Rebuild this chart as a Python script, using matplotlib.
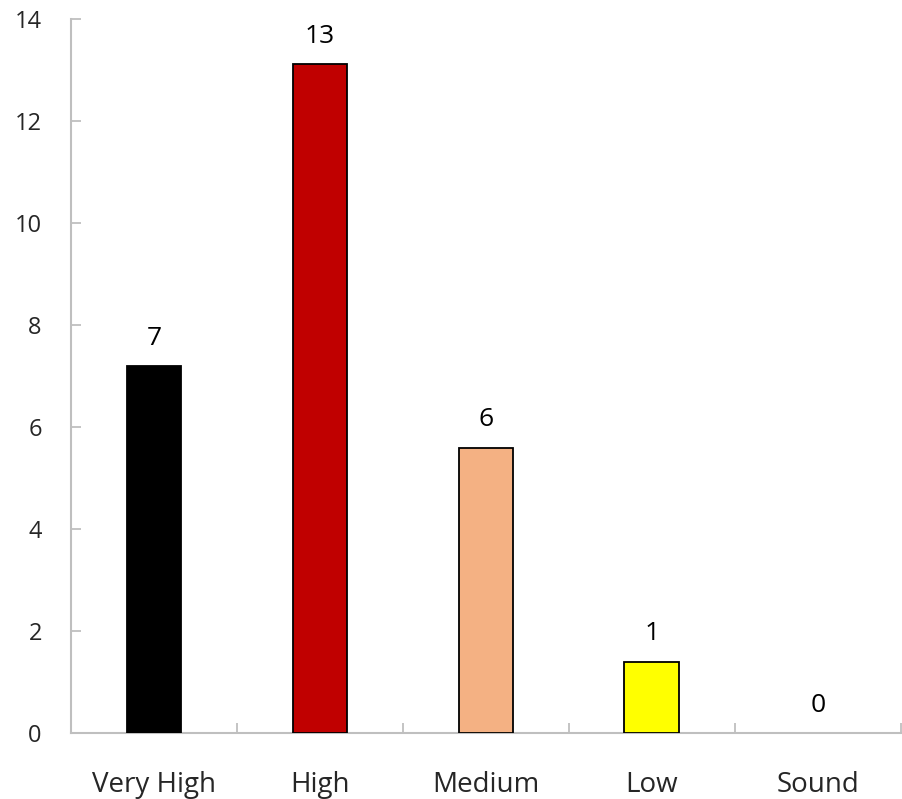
import matplotlib.pyplot as plt
import numpy as np

categories = ["Very High", "High", "Medium", "Low", "Sound"]
values = [7.2, 13.13, 5.6, 1.4, 0]
labels = ["7", "13", "6", "1", "0"]
colors = ["#000000", "#C00000", "#F4B183", "#FFFF00", "#FFFFFF"]

plt.rcParams['font.family'] = ['Open Sans', 'DejaVu Sans']

fig = plt.figure(figsize=(9.03, 7.99), dpi=100)
ax = fig.add_axes([0.0786, 0.0826, 0.919, 0.893])

x = np.arange(len(categories))
bars = ax.bar(x, values, width=0.33, color=colors, edgecolor="black", linewidth=1.3, zorder=3)
bars[-1].set_linewidth(0)

for xi, v, lab in zip(x, values, labels):
    ax.text(xi, v + 0.3, lab, ha="center", va="bottom", fontsize=19, color="black")

ax.set_xlim(-0.5, 4.5)
ax.set_ylim(0, 14)
ax.set_yticks(range(0, 15, 2))
ax.set_xticks(x)
ax.set_xticklabels(categories, fontsize=20, color="#262626")
ax.set_xticks(np.arange(-0.5, 5, 1), minor=True)

ax.tick_params(axis="x", which="major", length=0, pad=27)
ax.tick_params(axis="x", which="minor", direction="in", length=7, width=1.3, color="#BFBFBF")
ax.tick_params(axis="y", direction="in", length=7, width=1.3, color="#BFBFBF",
               labelsize=17, labelcolor="#262626", pad=21)

for s in ["top", "right"]:
    ax.spines[s].set_visible(False)
for s in ["left", "bottom"]:
    ax.spines[s].set_color("#BFBFBF")
    ax.spines[s].set_linewidth(1.5)

fig.savefig("out.png", dpi=100)
